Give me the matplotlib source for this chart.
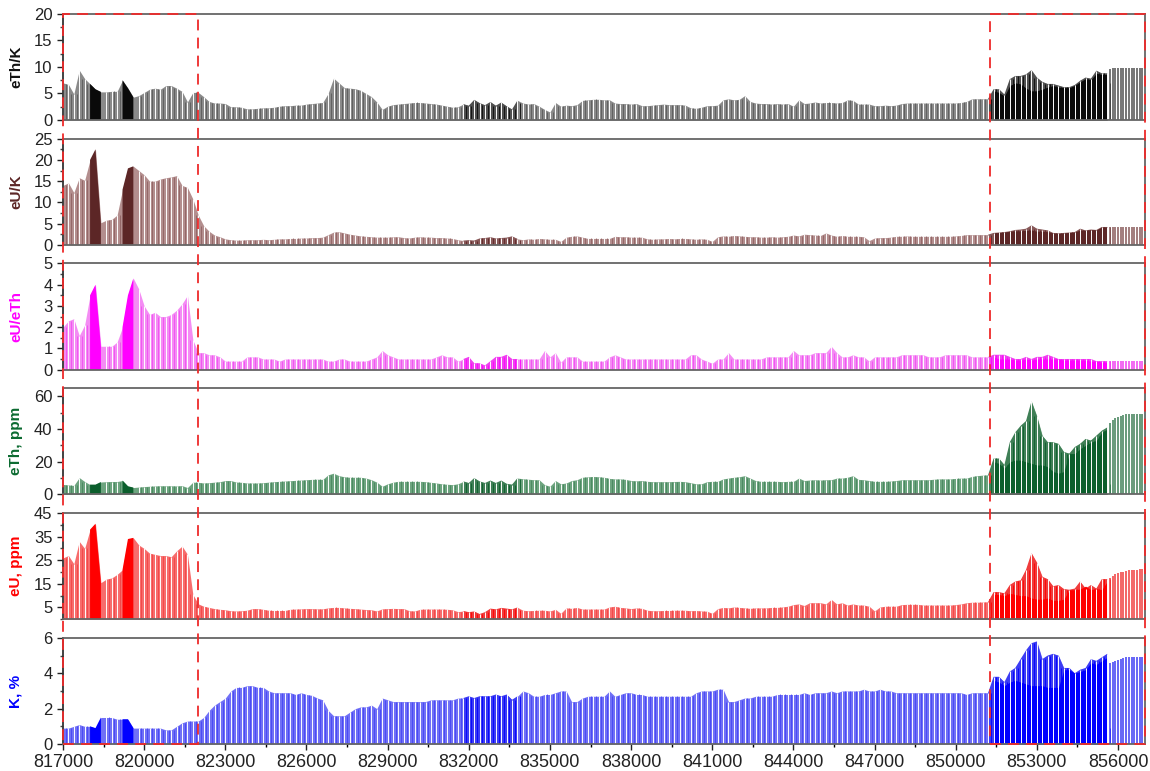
import numpy as np
import matplotlib
matplotlib.use("Agg")
import matplotlib.pyplot as plt
from matplotlib import transforms
from matplotlib.patches import Rectangle
from matplotlib.ticker import FixedLocator

plt.rcParams["font.family"] = ["Liberation Sans", "DejaVu Sans"]

# profile stations every 200 m, 817000 .. 855600
x_start, x_step = 817000, 200
# second (denser) profile over the eastern block, 851400 .. 855600
zone_start = 851400
# sparse stations at the east end, every 100 m, 855700 .. 856900
tail_start, tail_step = 855700, 100

eth_k = [
    7.0, 6.7, 4.9, 9.4, 7.8, 6.8, 5.8, 5.3, 5.3, 5.4,
    5.4, 7.5, 6.0, 4.3, 4.6, 5.2, 5.8, 6.0, 5.8, 6.5,
    6.5, 6.0, 5.4, 3.4, 5.2, 5.2, 4.4, 3.5, 3.2, 3.2,
    3.1, 2.5, 2.5, 2.4, 2.1, 2.1, 2.2, 2.3, 2.3, 2.4,
    2.6, 2.7, 2.7, 2.8, 2.8, 3.0, 3.1, 3.2, 3.3, 5.0,
    7.9, 7.0, 6.1, 6.0, 5.9, 5.6, 5.0, 4.4, 3.4, 2.0,
    2.6, 2.9, 3.0, 3.1, 3.2, 3.3, 3.3, 3.2, 3.1, 3.0,
    2.8, 2.6, 2.4, 2.5, 3.0, 2.7, 3.8, 3.2, 2.8, 3.4,
    2.7, 3.3, 2.6, 2.0, 3.7, 3.2, 3.0, 3.1, 2.6, 2.0,
    1.5, 3.3, 2.6, 2.8, 2.7, 2.9, 3.7, 3.8, 3.9, 3.9,
    3.8, 3.8, 3.2, 3.1, 3.1, 3.0, 3.1, 2.7, 2.7, 2.8,
    2.9, 3.0, 2.9, 2.9, 2.9, 2.8, 2.3, 2.2, 2.4, 2.7,
    2.7, 2.8, 3.8, 4.0, 3.8, 3.9, 4.6, 3.5, 3.2, 3.1,
    3.1, 3.0, 3.1, 3.0, 3.1, 2.6, 3.8, 3.1, 3.2, 3.4,
    3.2, 3.3, 3.3, 3.2, 3.3, 3.8, 3.7, 3.0, 3.0, 3.0,
    2.7, 2.7, 2.8, 2.7, 2.8, 3.1, 3.2, 3.2, 3.2, 3.2,
    3.2, 3.2, 3.2, 3.2, 3.2, 3.2, 3.3, 3.5, 4.0, 4.0,
    4.0, 4.0, 5.8, 5.8, 4.8, 7.7, 8.3, 8.3, 8.6, 9.4,
    8.0, 7.2, 6.8, 6.8, 6.5, 6.2, 6.2, 6.6, 7.4, 8.0,
    7.8, 9.3, 8.8, 8.8,
]
eth_k_lo = [5.5, 5.2, 4.5, 6.5, 7.0, 6.8, 6.0, 5.5, 5.5, 5.8, 6.2,
            6.5, 6.2, 6.1, 6.1, 6.5, 7.2, 7.8, 7.6, 8.8, 8.6, 8.6]
eth_k_tail = [9.7, 9.8, 9.8, 9.8, 9.8, 9.8, 9.8, 9.8, 9.8, 9.8, 9.8, 9.8, 9.8]

eu_k = [
    14.0, 14.6, 12.3, 15.8, 15.2, 20.0, 22.5, 5.2, 5.8, 6.0,
    7.0, 13.0, 18.0, 18.5, 17.5, 16.5, 15.0, 15.0, 15.5, 15.8,
    16.0, 16.3, 14.0, 13.5, 10.8, 7.0, 4.5, 3.2, 2.3, 1.9,
    1.4, 1.2, 1.1, 1.1, 1.2, 1.2, 1.2, 1.3, 1.2, 1.3,
    1.4, 1.4, 1.5, 1.5, 1.6, 1.6, 1.7, 1.7, 1.8, 2.4,
    3.0, 3.1, 2.8, 2.5, 2.3, 2.1, 2.0, 1.9, 1.8, 1.8,
    1.8, 1.9, 1.9, 1.7, 1.6, 1.8, 1.9, 1.8, 1.8, 1.7,
    1.7, 1.6, 1.5, 1.2, 1.0, 1.1, 1.0, 1.5, 1.6, 1.8,
    1.5, 1.6, 1.7, 2.0, 1.4, 1.2, 1.4, 1.3, 1.5, 1.4,
    1.3, 1.3, 0.8, 1.8, 2.0, 2.1, 1.8, 1.5, 1.5, 1.5,
    1.5, 1.5, 2.0, 1.9, 1.9, 1.8, 1.8, 1.8, 1.4, 1.3,
    1.4, 1.4, 1.5, 1.4, 1.5, 1.5, 1.4, 1.3, 1.4, 1.3,
    0.8, 1.9, 2.1, 2.0, 2.2, 2.1, 2.0, 1.9, 1.9, 1.8,
    1.8, 1.9, 1.8, 1.9, 2.0, 2.3, 2.1, 2.5, 2.4, 2.3,
    2.2, 2.8, 2.3, 2.0, 2.2, 2.0, 2.0, 2.0, 1.9, 1.0,
    1.6, 1.7, 1.7, 1.8, 2.0, 2.0, 2.1, 2.0, 2.0, 2.0,
    2.0, 2.0, 2.0, 2.0, 2.0, 2.1, 2.2, 2.4, 2.4, 2.4,
    2.4, 2.4, 2.8, 2.9, 3.0, 3.2, 3.5, 3.6, 3.8, 4.6,
    3.8, 3.6, 3.4, 2.8, 2.7, 2.8, 2.9, 3.0, 3.8, 3.4,
    3.6, 3.5, 4.2, 4.2,
]
eu_k_lo = [2.8, 2.9, 3.0, 3.2, 3.3, 3.3, 3.4, 3.5, 3.2, 3.2, 3.1,
           2.8, 2.7, 2.8, 2.9, 3.0, 3.5, 3.4, 3.6, 3.5, 4.2, 4.2]
eu_k_tail = [4.2] * 13

eu_eth = [
    2.0, 2.3, 2.4, 1.6, 2.1, 3.5, 4.0, 1.1, 1.1, 1.1,
    1.3, 2.0, 3.5, 4.3, 3.8, 3.0, 2.6, 2.7, 2.5, 2.5,
    2.6, 2.8, 3.1, 3.5, 1.4, 0.8, 0.8, 0.7, 0.7, 0.6,
    0.4, 0.4, 0.4, 0.4, 0.6, 0.6, 0.6, 0.5, 0.5, 0.5,
    0.4, 0.5, 0.5, 0.5, 0.5, 0.5, 0.5, 0.5, 0.5, 0.4,
    0.4, 0.5, 0.5, 0.4, 0.4, 0.4, 0.4, 0.5, 0.6, 0.9,
    0.7, 0.6, 0.5, 0.5, 0.5, 0.5, 0.5, 0.5, 0.5, 0.6,
    0.7, 0.6, 0.6, 0.4, 0.5, 0.6, 0.3, 0.3, 0.2, 0.4,
    0.6, 0.6, 0.7, 0.5, 0.5, 0.5, 0.5, 0.5, 0.5, 0.9,
    0.6, 0.8, 0.35, 0.6, 0.6, 0.6, 0.4, 0.4, 0.4, 0.4,
    0.4, 0.6, 0.7, 0.6, 0.5, 0.5, 0.5, 0.5, 0.5, 0.5,
    0.5, 0.5, 0.5, 0.5, 0.5, 0.5, 0.7, 0.7, 0.5, 0.4,
    0.3, 0.5, 0.5, 0.8, 0.5, 0.5, 0.5, 0.5, 0.5, 0.5,
    0.6, 0.6, 0.6, 0.6, 0.6, 0.9, 0.7, 0.7, 0.7, 0.8,
    0.8, 0.8, 1.1, 0.8, 0.6, 0.6, 0.7, 0.6, 0.6, 0.4,
    0.6, 0.6, 0.6, 0.6, 0.6, 0.7, 0.7, 0.7, 0.7, 0.7,
    0.6, 0.6, 0.6, 0.7, 0.7, 0.7, 0.7, 0.7, 0.6, 0.6,
    0.6, 0.6, 0.7, 0.7, 0.7, 0.6, 0.5, 0.5, 0.6, 0.5,
    0.6, 0.6, 0.7, 0.6, 0.5, 0.5, 0.5, 0.5, 0.5, 0.5,
    0.5, 0.4, 0.4, 0.4,
]
eu_eth_lo = [0.6, 0.5, 0.5, 0.5, 0.45, 0.45, 0.5, 0.45, 0.5, 0.5, 0.5,
             0.5, 0.5, 0.45, 0.45, 0.45, 0.45, 0.45, 0.4, 0.4, 0.35, 0.35]
eu_eth_tail = [0.4] * 13

eth = [
    6.1, 5.8, 5.5, 10.3, 7.9, 6.0, 6.0, 7.6, 7.8, 7.9,
    7.9, 8.5, 5.0, 4.2, 4.5, 4.8, 5.0, 5.2, 5.3, 5.3,
    5.3, 5.2, 5.4, 4.2, 7.5, 7.4, 7.0, 7.2, 7.5, 7.8,
    8.5, 8.5, 7.6, 7.4, 7.0, 7.0, 7.0, 7.2, 7.5, 7.8,
    8.0, 8.2, 8.4, 8.6, 8.8, 9.0, 9.2, 9.3, 9.2, 12.0,
    13.0, 11.5, 10.8, 10.5, 10.5, 10.5, 10.0, 9.0, 7.5, 5.0,
    6.5, 7.5, 8.0, 8.0, 8.0, 8.0, 8.0, 7.8, 7.4, 7.0,
    6.5, 6.2, 6.0, 6.5, 8.0, 7.0, 10.0, 8.0, 7.0, 8.5,
    7.0, 8.5, 6.5, 6.0, 10.0, 9.6, 9.3, 9.0, 9.0, 6.0,
    5.0, 8.5, 6.5, 7.0, 8.5, 9.0, 10.5, 10.8, 11.0, 10.8,
    10.5, 9.8, 9.5, 9.5, 9.2, 8.5, 8.3, 8.5, 8.0, 7.8,
    7.8, 7.8, 7.8, 7.9, 8.0, 7.8, 7.2, 6.5, 6.5, 7.8,
    8.0, 8.0, 9.5, 10.0, 10.5, 10.8, 11.5, 10.0, 8.5, 8.0,
    8.0, 8.0, 8.0, 7.8, 8.0, 8.0, 10.0, 8.5, 8.8, 9.0,
    8.8, 9.0, 9.0, 10.0, 10.0, 10.5, 11.5, 9.2, 9.0, 8.5,
    8.0, 8.0, 8.0, 8.2, 8.5, 9.0, 9.0, 9.0, 9.0, 9.0,
    9.0, 9.3, 9.5, 9.5, 9.5, 9.8, 10.0, 10.0, 11.0, 11.5,
    11.8, 12.0, 22.0, 22.0, 18.0, 32.0, 38.0, 42.0, 45.0, 57.0,
    48.0, 36.0, 32.0, 32.0, 31.0, 26.0, 25.0, 29.0, 31.0, 34.0,
    33.0, 36.0, 39.0, 41.0,
]
eth_lo = [20, 19, 16, 20, 21, 21, 20, 19, 18, 18, 17,
          14, 13, 14, 25, 25, 28, 30, 32, 33, 38, 40]
eth_tail = [44, 45.5, 46.5, 47.5, 48, 48.5, 49, 49, 49.5, 49.5, 49.5, 49.5, 49.5]

eu = [
    26.0, 27.0, 23.5, 33.0, 30.0, 38.0, 40.5, 15.5, 17.0, 17.5,
    19.0, 21.0, 34.0, 34.5, 31.5, 30.0, 28.0, 27.5, 27.0, 27.0,
    26.5, 29.0, 31.0, 27.5, 10.5, 6.5, 5.5, 5.0, 4.5, 4.2,
    4.0, 3.6, 3.5, 3.6, 3.8, 4.5, 4.5, 4.2, 3.8, 3.7,
    3.7, 3.7, 4.2, 4.3, 4.4, 4.5, 4.5, 4.4, 4.4, 4.8,
    5.0, 5.0, 4.8, 4.6, 4.5, 4.3, 4.1, 4.0, 3.5, 4.4,
    4.5, 4.6, 4.5, 4.5, 3.6, 3.5, 4.2, 4.3, 4.3, 4.3,
    4.3, 4.2, 4.0, 3.2, 3.5, 3.0, 3.3, 2.2, 3.0, 4.5,
    4.2, 4.8, 4.5, 4.2, 5.0, 3.8, 3.6, 3.7, 3.8, 3.8,
    3.5, 4.2, 2.5, 4.8, 4.6, 5.0, 4.3, 4.3, 4.3, 4.3,
    4.3, 5.2, 5.5, 5.0, 4.8, 4.5, 4.8, 4.6, 3.8, 3.6,
    3.6, 3.7, 3.7, 3.8, 3.8, 3.8, 3.6, 3.7, 3.5, 3.4,
    2.5, 4.5, 5.0, 4.8, 5.2, 5.0, 4.8, 4.6, 4.8, 4.8,
    4.8, 5.0, 5.0, 5.2, 5.5, 6.2, 6.5, 5.8, 7.0, 7.0,
    7.0, 6.5, 8.4, 6.5, 7.0, 6.0, 6.5, 6.0, 6.0, 5.5,
    3.5, 5.2, 5.5, 5.5, 5.5, 6.2, 6.3, 6.3, 6.3, 6.0,
    6.0, 6.0, 6.0, 6.0, 6.0, 6.2, 6.5, 7.0, 7.2, 7.2,
    7.3, 7.4, 11.5, 11.5, 11.0, 14.5, 16.0, 16.5, 21.0, 28.0,
    24.0, 18.0, 17.0, 14.0, 14.5, 12.8, 12.5, 13.0, 16.0, 13.0,
    14.5, 13.0, 17.0, 17.0,
]
eu_lo = [10.5, 10.5, 10.0, 11.0, 10.5, 10.0, 10.0, 9.0, 8.5, 8.5, 9.0,
         8.0, 8.0, 8.5, 12.5, 12.5, 12.8, 14.0, 12.5, 13.0, 12.5, 16.0]
eu_tail = [17.5, 18.5, 19.0, 19.5, 20.0, 20.2, 20.5, 20.7, 20.8, 21.0, 21.0, 21.1, 21.2]

k = [
    0.9, 0.9, 1.0, 1.1, 1.0, 1.0, 0.9, 1.5, 1.5, 1.5,
    1.4, 1.4, 1.4, 0.9, 0.9, 0.9, 0.9, 0.9, 0.9, 0.8,
    0.8, 1.0, 1.2, 1.3, 1.3, 1.3, 1.5, 1.9, 2.2, 2.4,
    2.6, 3.0, 3.2, 3.2, 3.3, 3.3, 3.2, 3.2, 3.0, 2.9,
    2.9, 2.9, 2.9, 2.8, 2.9, 2.8, 2.75, 2.6, 2.5, 1.9,
    1.6, 1.6, 1.6, 1.8, 2.0, 2.1, 2.1, 2.2, 2.0, 2.6,
    2.5, 2.4, 2.4, 2.4, 2.4, 2.4, 2.4, 2.4, 2.5, 2.5,
    2.5, 2.5, 2.5, 2.6, 2.6, 2.7, 2.6, 2.7, 2.7, 2.7,
    2.8, 2.7, 2.8, 2.5, 2.7, 3.0, 2.9, 2.7, 2.7, 2.8,
    2.8, 2.9, 3.0, 3.0, 2.4, 2.4, 2.6, 2.7, 2.7, 2.7,
    2.7, 3.0, 2.7, 2.8, 2.9, 2.9, 2.8, 2.8, 2.7, 2.7,
    2.7, 2.7, 2.7, 2.7, 2.7, 2.7, 2.7, 2.9, 3.0, 3.0,
    3.0, 3.1, 3.1, 2.4, 2.4, 2.5, 2.6, 2.6, 2.7, 2.7,
    2.7, 2.7, 2.8, 2.8, 2.8, 2.8, 2.8, 2.9, 2.8, 2.9,
    2.9, 2.9, 3.0, 2.9, 3.0, 3.0, 3.0, 3.0, 3.1, 3.0,
    3.0, 3.1, 3.0, 3.0, 2.9, 2.9, 2.9, 2.9, 2.9, 2.9,
    2.9, 2.9, 2.9, 2.9, 2.9, 2.9, 2.9, 2.8, 2.9, 2.9,
    2.9, 2.9, 3.8, 3.8, 3.5, 4.1, 4.3, 4.8, 5.3, 5.7,
    5.8, 4.8, 5.0, 5.1, 5.0, 4.3, 4.3, 4.0, 4.2, 4.3,
    4.8, 4.7, 4.9, 5.1,
]
k_lo = [3.6, 3.5, 3.3, 3.5, 3.6, 3.5, 3.4, 3.3, 3.3, 3.3, 3.2,
        3.2, 3.2, 4.2, 4.2, 4.0, 4.1, 4.2, 4.6, 4.5, 4.7, 4.9]
k_tail = [4.6, 4.65, 4.7, 4.75, 4.8, 4.85, 4.9, 4.9, 4.9, 4.9, 4.9, 4.9, 4.9]

# short stretches with very dense survey lines (solid dark shade)
DENSE_DARK = [(817950, 818450), (819200, 819600)]
# longer stretch with closer lines (medium shade, still striped)
DENSE_MID = [(831700, 833800)]
# block boundaries (red dashed frames)
blocks = [(817000, 822000), (851250, 857000)]

panels = [
    # values, lo, tail, ylim, ticks, minor ticks, label, label colour, light, mid, dark
    (eth_k, eth_k_lo, eth_k_tail, 20, [0, 5, 10, 15, 20], np.arange(2.5, 20, 5),
     "eTh/K", "#111111", "#8a8a8a", "#505050", "#0a0a0a"),
    (eu_k, eu_k_lo, eu_k_tail, 25, [0, 5, 10, 15, 20, 25], np.arange(2.5, 25, 5),
     "eU/K", "#5c2626", "#b38e8e", "#875858", "#5c2626"),
    (eu_eth, eu_eth_lo, eu_eth_tail, 5, [0, 1, 2, 3, 4, 5], np.arange(0.5, 5, 1),
     "eU/eTh", "#ff00ff", "#f48cf4", "#f040f0", "#ff00ff"),
    (eth, eth_lo, eth_tail, 65, [0, 20, 40, 60], [10, 30, 50],
     "eTh, ppm", "#0b6a30", "#6da47f", "#3f7f56", "#0b5e2c"),
    (eu, eu_lo, eu_tail, 45, [5, 15, 25, 35, 45], [0, 10, 20, 30, 40],
     "eU, ppm", "#ff0000", "#f76c6c", "#f03c3c", "#ff0000"),
    (k, k_lo, k_tail, 6, [0, 2, 4, 6], [1, 3, 5],
     "K, %", "#0000ff", "#7070f6", "#3c3cf4", "#0000ff"),
]


def in_spans(x, spans):
    m = np.zeros(len(x), dtype=bool)
    for a, b in spans:
        m |= (x >= a) & (x <= b)
    return m


fig, axes = plt.subplots(6, 1, figsize=(11.5, 7.71), dpi=100, sharex=True)
fig.subplots_adjust(left=0.0548, right=0.9957, top=0.982, bottom=0.035, hspace=0.176)

for ax, (vals, lo, tail, ytop, ticks, mticks, label, lcol, light, mid, dark) in zip(axes, panels):
    vals = np.asarray(vals, dtype=float)
    x = x_start + x_step * np.arange(len(vals))
    zx = zone_start + x_step * np.arange(len(lo))
    tx = tail_start + tail_step * np.arange(len(tail))

    dark_m = in_spans(x, DENSE_DARK)
    mid_m = in_spans(x, DENSE_MID) | (x >= zone_start - x_step)
    nxt = np.minimum(vals, np.roll(vals, -1))

    # filled profile with the station lines showing through as stripes
    ax.fill_between(x, 0, vals, color=light, linewidth=0)
    ax.fill_between(x, 0, vals, where=mid_m, color=mid, linewidth=0)
    ax.fill_between(x, 0, vals, where=dark_m, color=dark, linewidth=0)
    ax.vlines(x[~dark_m], 0, vals[~dark_m], color="white", linewidth=0.7)
    plain = ~dark_m & ~mid_m
    ax.vlines(x[plain] + x_step / 2, 0, nxt[plain], color=mid, linewidth=0.5)
    ax.vlines(x[mid_m] + x_step / 2, 0, nxt[mid_m], color=dark, linewidth=0.6)
    ax.fill_between(zx, 0, lo, color=dark, linewidth=0)
    ax.vlines(tx, 0, tail, color=mid, linewidth=1.1)

    ax.set_ylim(0, ytop)
    ax.yaxis.set_major_locator(FixedLocator(ticks))
    ax.yaxis.set_minor_locator(FixedLocator(mticks))
    ax.set_ylabel(label, color=lcol, fontsize=11, fontweight="bold")
    ax.yaxis.set_label_coords(-0.037, 0.5)
    ax.tick_params(axis="y", which="major", length=4, width=1, labelsize=12, colors="#222222")
    ax.tick_params(axis="y", which="minor", length=2.5, width=1, colors="#444444")
    for s in ax.spines.values():
        s.set_color("#666666")
        s.set_linewidth(1.3)
    ax.spines["left"].set_color("#333333")

ax = axes[-1]
ax.set_xlim(817000, 857000)
ax.xaxis.set_major_locator(FixedLocator(np.arange(817000, 857000, 3000)))
ax.xaxis.set_minor_locator(FixedLocator(np.arange(818500, 857000, 3000)))
ax.tick_params(axis="x", which="major", length=4, width=1, labelsize=13, colors="#222222")
ax.tick_params(axis="x", which="minor", length=2.5, width=1)
for a in axes[:-1]:
    a.tick_params(axis="x", which="both", length=0)

# red dashed frames round the two end blocks, through all panels
fig.canvas.draw()
y0 = axes[-1].get_position().y0
y1 = axes[0].get_position().y1
tr = transforms.blended_transform_factory(axes[-1].transData, fig.transFigure)
for a, b in blocks:
    fig.add_artist(Rectangle((a, y0), b - a, y1 - y0, transform=tr, fill=False,
                             edgecolor="#ee2a2a", linestyle=(0, (6, 4)), linewidth=1.3,
                             zorder=10))

fig.savefig("out.png", dpi=100)
